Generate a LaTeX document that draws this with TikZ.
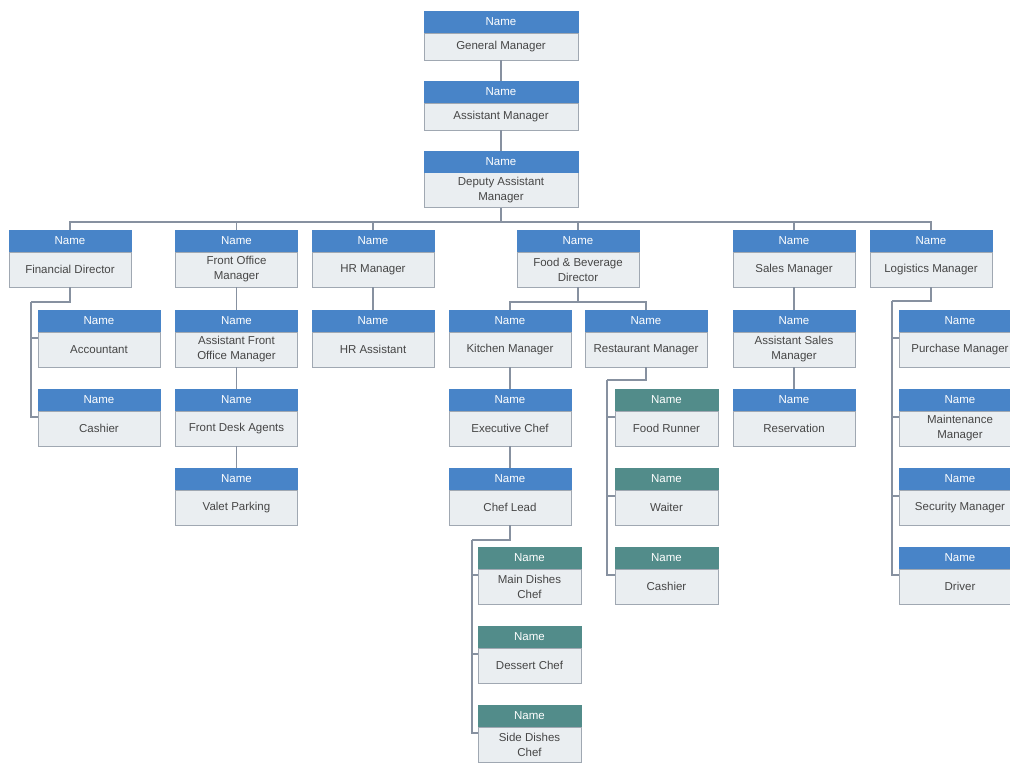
\documentclass[tikz,border=0pt]{standalone}
\usepackage{fontspec}
\setmainfont{Liberation Sans}
\usetikzlibrary{positioning}
\definecolor{HeadClr}{RGB}{72,132,200}
\definecolor{TealClr}{RGB}{82,140,138}
\definecolor{BodyClr}{RGB}{234,238,241}
\definecolor{EdgeClr}{RGB}{160,168,178}
\definecolor{LinkClr}{RGB}{135,145,160}
\definecolor{TextClr}{RGB}{70,70,70}

\tikzset{
  boxhead/.style={fill=HeadClr,text=white,minimum width=123pt,minimum height=22pt,
    inner sep=0pt,outer sep=0pt,font=\fontsize{11.5}{13}\selectfont},
  boxbody/.style={fill=BodyClr,draw=EdgeClr,line width=1pt,minimum width=122pt,
    minimum height=35pt,inner sep=1pt,outer sep=0pt,align=center,text=TextClr,
    font=\fontsize{11.5}{15}\selectfont},
  widehead/.style={boxhead,minimum width=155pt},
  widebody/.style={boxbody,minimum width=154pt},
  lowbody/.style={minimum height=27pt},
  tealhead/.style={boxhead,fill=TealClr,minimum width=104pt},
  tealbody/.style={boxbody,minimum width=103pt},
  link/.style={draw=LinkClr,line width=1.3pt}
}

\begin{document}
\begin{tikzpicture}[x=1pt,y=-1pt]
\useasboundingbox (0,0) rectangle (1010,763);
\clip (0,0) rectangle (1010,763);

% top chain
\node[widebody,lowbody] (gm) at (501,46.5) {General Manager};
\node[widehead,above=0pt of gm] (gm-h) {Name};
\node[widebody,lowbody] (am) at (501,116.5) {Assistant Manager};
\node[widehead,above=0pt of am] (am-h) {Name};
\node[widebody] (dam) at (501,190) {Deputy Assistant\\Manager};
\node[widehead,above=0pt of dam] (dam-h) {Name};

% first row
\node[boxbody] (fd) at (70,269.5) {Financial Director};
\node[boxhead,above=0pt of fd] (fd-h) {Name};
\node[boxbody] (fom) at (236.5,269.5) {Front Office\\Manager};
\node[boxhead,above=0pt of fom] (fom-h) {Name};
\node[boxbody] (hr) at (373,269.5) {HR Manager};
\node[boxhead,above=0pt of hr] (hr-h) {Name};
\node[boxbody] (fb) at (578,269.5) {Food \& Beverage\\Director};
\node[boxhead,above=0pt of fb] (fb-h) {Name};
\node[boxbody] (sm) at (794,269.5) {Sales Manager};
\node[boxhead,above=0pt of sm] (sm-h) {Name};
\node[boxbody] (lm) at (931,269.5) {Logistics Manager};
\node[boxhead,above=0pt of lm] (lm-h) {Name};

% finance
\node[boxbody] (acc) at (99,349.5) {Accountant};
\node[boxhead,above=0pt of acc] (acc-h) {Name};
\node[boxbody] (cash) at (99,428.5) {Cashier};
\node[boxhead,above=0pt of cash] (cash-h) {Name};

% front office
\node[boxbody] (afom) at (236.5,349.5) {Assistant Front\\Office Manager};
\node[boxhead,above=0pt of afom] (afom-h) {Name};
\node[boxbody] (fda) at (236.5,428.5) {Front Desk Agents};
\node[boxhead,above=0pt of fda] (fda-h) {Name};
\node[boxbody] (vp) at (236.5,507.5) {Valet Parking};
\node[boxhead,above=0pt of vp] (vp-h) {Name};

% hr
\node[boxbody] (hra) at (373,349.5) {HR Assistant};
\node[boxhead,above=0pt of hra] (hra-h) {Name};

% food and beverage
\node[boxbody] (km) at (510,349.5) {Kitchen Manager};
\node[boxhead,above=0pt of km] (km-h) {Name};
\node[boxbody] (ec) at (510,428.5) {Executive Chef};
\node[boxhead,above=0pt of ec] (ec-h) {Name};
\node[boxbody] (cl) at (510,507.5) {Chef Lead};
\node[boxhead,above=0pt of cl] (cl-h) {Name};
\node[tealbody] (mdc) at (529.5,586.5) {Main Dishes\\Chef};
\node[tealhead,above=0pt of mdc] (mdc-h) {Name};
\node[tealbody] (dc) at (529.5,665.5) {Dessert Chef};
\node[tealhead,above=0pt of dc] (dc-h) {Name};
\node[tealbody] (sdc) at (529.5,744.5) {Side Dishes\\Chef};
\node[tealhead,above=0pt of sdc] (sdc-h) {Name};

\node[boxbody] (rm) at (646,349.5) {Restaurant Manager};
\node[boxhead,above=0pt of rm] (rm-h) {Name};
\node[tealbody] (fr) at (666.5,428.5) {Food Runner};
\node[tealhead,above=0pt of fr] (fr-h) {Name};
\node[tealbody] (wt) at (666.5,507.5) {Waiter};
\node[tealhead,above=0pt of wt] (wt-h) {Name};
\node[tealbody] (rc) at (666.5,586.5) {Cashier};
\node[tealhead,above=0pt of rc] (rc-h) {Name};

% sales
\node[boxbody] (asm) at (794,349.5) {Assistant Sales\\Manager};
\node[boxhead,above=0pt of asm] (asm-h) {Name};
\node[boxbody] (res) at (794,428.5) {Reservation};
\node[boxhead,above=0pt of res] (res-h) {Name};

% logistics
\node[boxbody] (pm) at (960,349.5) {Purchase Manager};
\node[boxhead,above=0pt of pm] (pm-h) {Name};
\node[boxbody] (mm) at (960,428.5) {Maintenance\\Manager};
\node[boxhead,above=0pt of mm] (mm-h) {Name};
\node[boxbody] (secm) at (960,507.5) {Security Manager};
\node[boxhead,above=0pt of secm] (secm-h) {Name};
\node[boxbody] (drv) at (960,586.5) {Driver};
\node[boxhead,above=0pt of drv] (drv-h) {Name};

% links
\coordinate (bus) at (501,222);
\coordinate (fbbus) at (578,302);
\coordinate (fdturn) at (31,302);
\coordinate (clturn) at (472,540);
\coordinate (rmturn) at (607,380);
\coordinate (lmturn) at (892,301);

\draw[link] (gm.south) -- (am-h.north);
\draw[link] (am.south) -- (dam-h.north);
\draw[link] (dam.south) -- (bus);
\draw[link] (bus) -| (fd-h.north) (bus) -| (fom-h.north) (bus) -| (hr-h.north)
  (bus) -| (fb-h.north) (bus) -| (sm-h.north) (bus) -| (lm-h.north);

\draw[link] (fd.south) |- (fdturn);
\draw[link] (fdturn) |- ([yshift=-6pt]acc.north west) (fdturn) |- ([yshift=-6pt]cash.north west);

\draw[link] (fom.south) -- (afom-h.north);
\draw[link] (afom.south) -- (fda-h.north);
\draw[link] (fda.south) -- (vp-h.north);

\draw[link] (hr.south) -- (hra-h.north);

\draw[link] (fb.south) -- (fbbus);
\draw[link] (fbbus) -| (km-h.north) (fbbus) -| (rm-h.north);
\draw[link] (km.south) -- (ec-h.north);
\draw[link] (ec.south) -- (cl-h.north);
\draw[link] (cl.south) |- (clturn);
\draw[link] (clturn) |- ([yshift=-6pt]mdc.north west) (clturn) |- ([yshift=-6pt]dc.north west)
  (clturn) |- ([yshift=-6pt]sdc.north west);
\draw[link] (rm.south) |- (rmturn);
\draw[link] (rmturn) |- ([yshift=-6pt]fr.north west) (rmturn) |- ([yshift=-6pt]wt.north west)
  (rmturn) |- ([yshift=-6pt]rc.north west);

\draw[link] (sm.south) -- (asm-h.north);
\draw[link] (asm.south) -- (res-h.north);

\draw[link] (lm.south) |- (lmturn);
\draw[link] (lmturn) |- ([yshift=-6pt]pm.north west) (lmturn) |- ([yshift=-6pt]mm.north west)
  (lmturn) |- ([yshift=-6pt]secm.north west) (lmturn) |- ([yshift=-6pt]drv.north west);

\end{tikzpicture}
\end{document}
